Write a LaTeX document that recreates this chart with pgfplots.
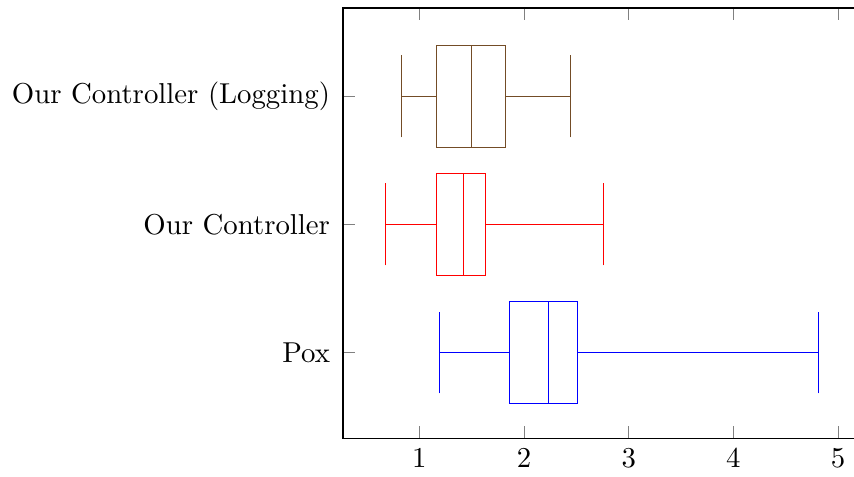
\documentclass[border=0pt]{standalone}
\usepackage{pgfplots}
\pgfplotsset{compat=1.18}
\usepgfplotslibrary{statistics}
\begin{document}
\begin{tikzpicture}
\begin{axis}[
  name=ax,
  scale only axis,
  width=182.9pt, height=149.5pt,
  xmin=0.27, xmax=5.3,
  ymin=0.33, ymax=3.69,
  xtick={1,2,3,4,5},
  ytick={1,2,3},
  yticklabels={Pox, Our Controller, Our Controller (Logging)},
  yticklabel style={xshift=-1pt},
]
\addplot[blue, boxplot prepared={draw position=1,
  lower whisker=1.19, lower quartile=1.86, median=2.23,
  upper quartile=2.51, upper whisker=4.81}] coordinates {};
\addplot[red, boxplot prepared={draw position=2,
  lower whisker=0.675, lower quartile=1.16, median=1.42,
  upper quartile=1.63, upper whisker=2.76}] coordinates {};
\addplot[brown!60!black, boxplot prepared={draw position=3,
  lower whisker=0.83, lower quartile=1.16, median=1.50,
  upper quartile=1.82, upper whisker=2.44}] coordinates {};
\coordinate (xcut) at (axis cs:5.153,1);
\end{axis}
\coordinate (bbsw) at (current bounding box.south west);
\path (ax.north) ++(0,2.8pt) coordinate (topp);
\pgfresetboundingbox
\path[use as bounding box] (bbsw) ++(-0.8pt,0) rectangle (topp -| xcut);
\end{tikzpicture}
\end{document}
